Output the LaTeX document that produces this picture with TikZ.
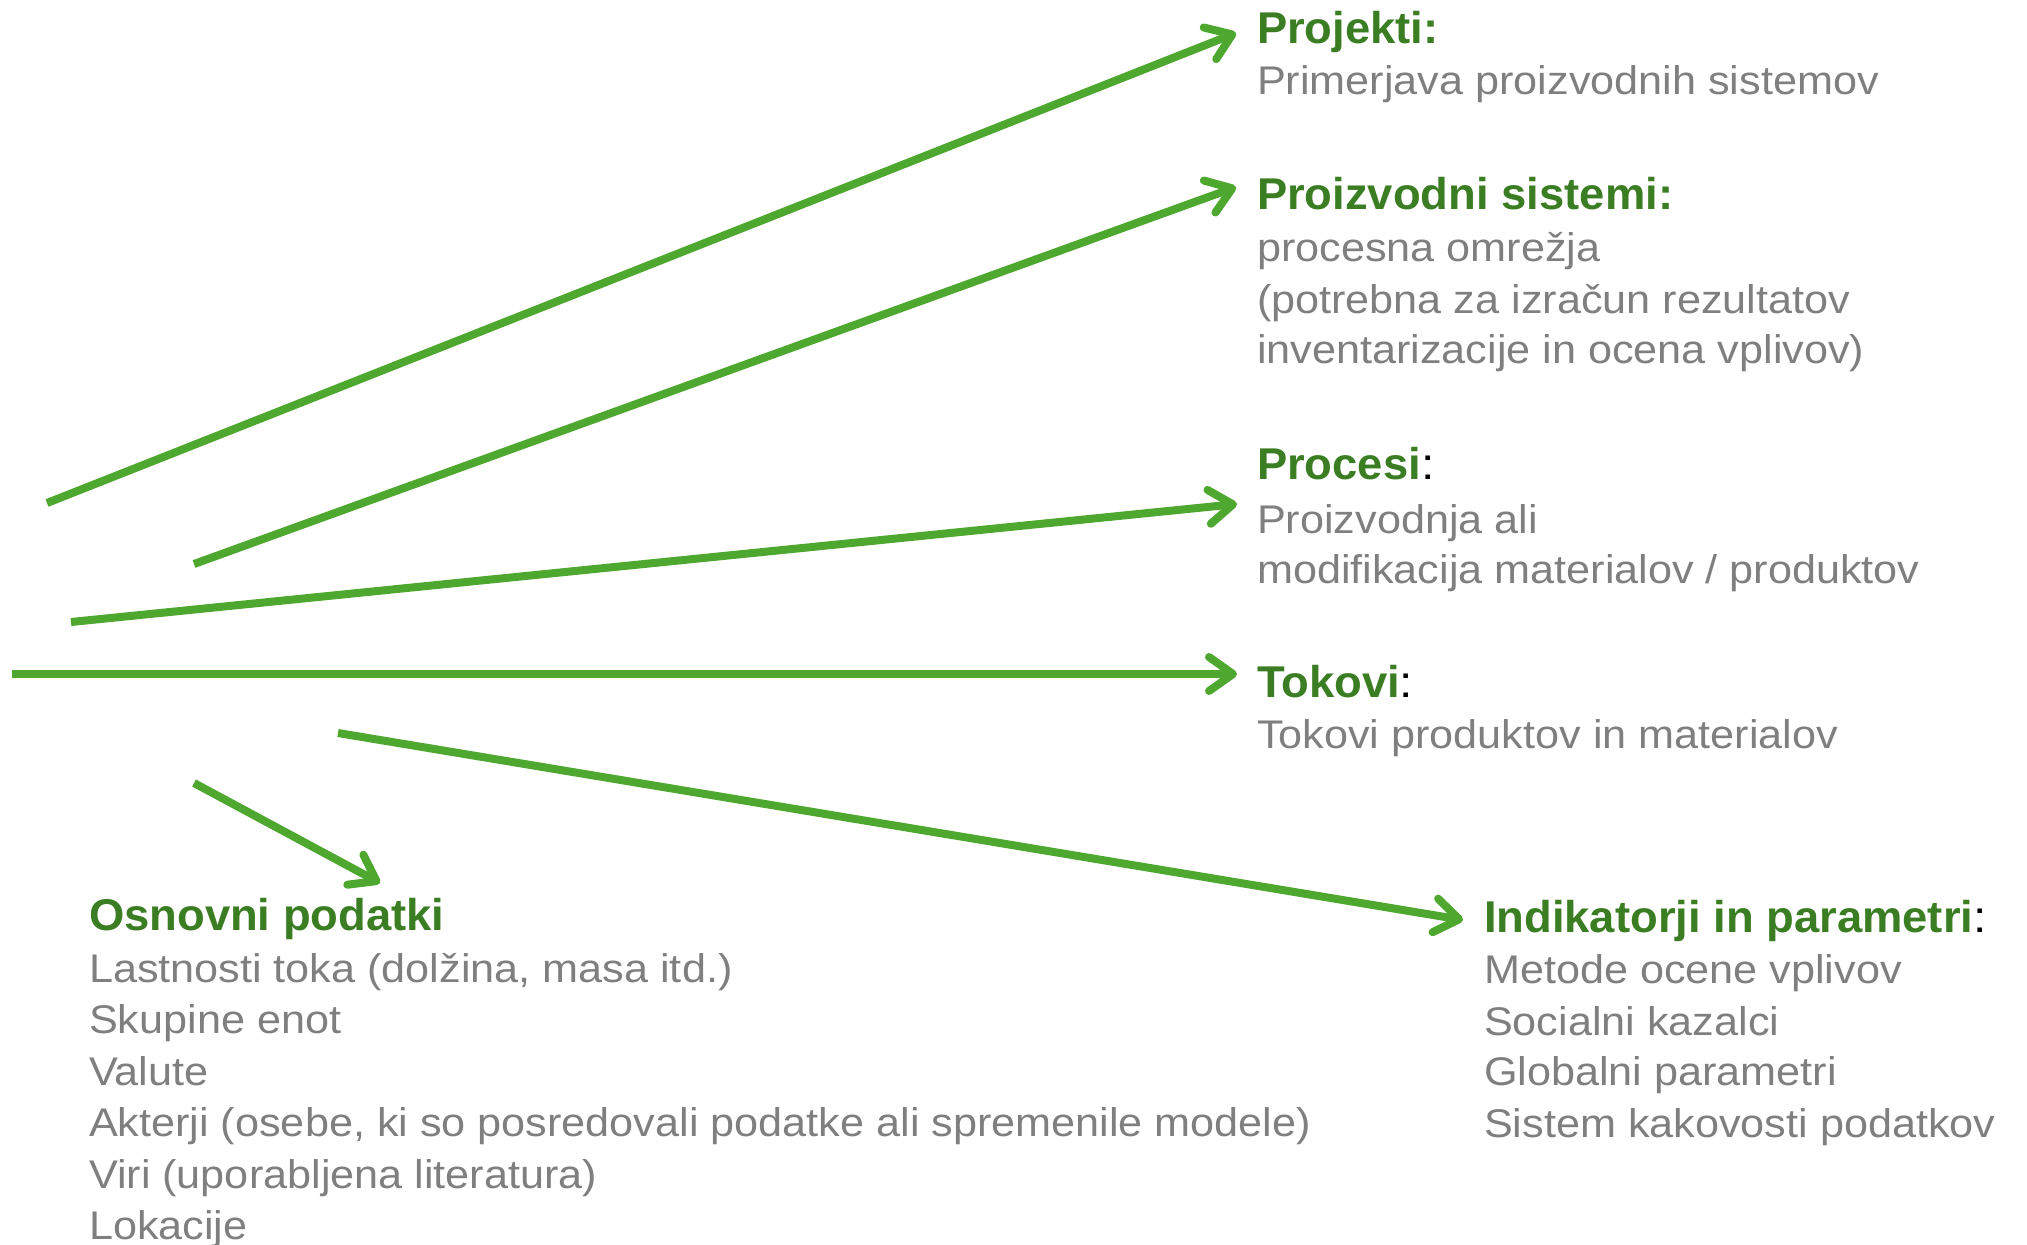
\documentclass[tikz,border=0pt]{standalone}
\usepackage{fontspec}
\setmainfont[FakeStretch=1.02]{Liberation Sans}
\newfontfamily\bodyfont[FakeStretch=1.08]{Liberation Sans}
\usetikzlibrary{arrows.meta}
\definecolor{headgreen}{HTML}{3A7D22}
\definecolor{arrowgreen}{HTML}{4EA72E}
\definecolor{bodygray}{HTML}{7F7F7F}
\newcommand{\blackcolon}{{\bodyfont\mdseries\color{black}:}}
\begin{document}
\begin{tikzpicture}[x=1pt,y=-1pt,
 head/.style={anchor=base west,inner sep=0pt,outer sep=0pt,text=headgreen,font=\fontsize{44.5}{50}\selectfont\bfseries},
 body/.style={anchor=base west,inner sep=0pt,outer sep=0pt,text=bodygray,font=\bodyfont\fontsize{40}{50}\selectfont},
 link/.style={draw=arrowgreen,line width=8pt,-{Straight Barb[round,length=24pt,width=34pt]}}
]
\useasboundingbox (0,0) rectangle (2027,1245);

% right column
\node[head] (hproj) at (1257,43) {Projekti:};
\node[body] (bproj) at (1257,94) {Primerjava proizvodnih sistemov};

\node[head] (hsys) at (1257,209) {Proizvodni sistemi:};
\node[body] (bsys1) at (1257,261) {procesna omrežja};
\node[body] (bsys2) at (1257,313) {(potrebna za izračun rezultatov};
\node[body] (bsys3) at (1257,363) {inventarizacije in ocena vplivov)};

\node[head] (hproc) at (1257,479) {Procesi\blackcolon};
\node[body] (bproc1) at (1257,533) {Proizvodnja ali};
\node[body] (bproc2) at (1257,583) {modifikacija materialov / produktov};

\node[head] (htok) at (1257,697) {Tokovi\blackcolon};
\node[body] (btok) at (1257,748) {Tokovi produktov in materialov};

% bottom left
\node[head] (hosn) at (89,930) {Osnovni podatki};
\node[body] (bosn1) at (89,982) {Lastnosti toka (dolžina, masa itd.)};
\node[body] (bosn2) at (89,1033.5) {Skupine enot};
\node[body] (bosn3) at (89,1085) {Valute};
\node[body] (bosn4) at (89,1136.5) {Akterji (osebe, ki so posredovali podatke ali spremenile modele)};
\node[body] (bosn5) at (89,1188) {Viri (uporabljena literatura)};
\node[body] (bosn6) at (89,1239.5) {Lokacije};

% bottom right
\node[head] (hind) at (1484,932) {Indikatorji in parametri\blackcolon};
\node[body] (bind1) at (1484,983) {Metode ocene vplivov};
\node[body] (bind2) at (1484,1035) {Socialni kazalci};
\node[body] (bind3) at (1484,1085) {Globalni parametri};
\node[body] (bind4) at (1484,1137) {Sistem kakovosti podatkov};

% connector ends
\coordinate (sproj) at (47,503);
\coordinate (eproj) at (1236,33);
\coordinate (ssys) at (194,564);
\coordinate (esys) at (1236,187);
\coordinate (sproc) at (71,622);
\coordinate (eproc) at (1237,504);
\coordinate (stok) at (12,674);
\coordinate (etok) at (1237,674);
\coordinate (sind) at (338,733);
\coordinate (eind) at (1463,920);
\coordinate (sosn) at (194,783);
\coordinate (eosn) at (380,883);

\draw[link] (sproj) -- (eproj);
\draw[link] (ssys) -- (esys);
\draw[link] (sproc) -- (eproc);
\draw[link] (stok) -- (etok);
\draw[link] (sind) -- (eind);
\draw[link] (sosn) -- (eosn);
\end{tikzpicture}
\end{document}
